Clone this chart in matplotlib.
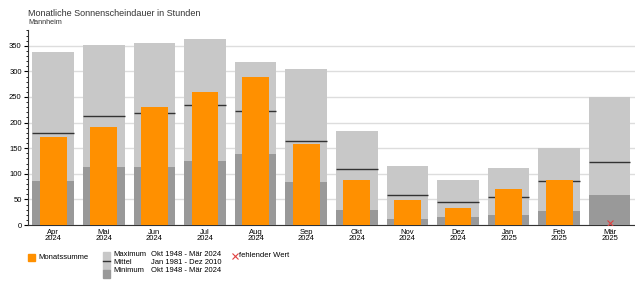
import numpy as np
import matplotlib
matplotlib.use("Agg")
import matplotlib.pyplot as plt
from matplotlib.patches import Rectangle
from matplotlib.lines import Line2D
from matplotlib.ticker import MultipleLocator

plt.rcParams['font.family'] = ['Liberation Sans', 'DejaVu Sans']

months = ["Apr\n2024", "Mai\n2024", "Jun\n2024", "Jul\n2024", "Aug\n2024", "Sep\n2024",
          "Okt\n2024", "Nov\n2024", "Dez\n2024", "Jan\n2025", "Feb\n2025", "Mär\n2025"]
maximum = [338, 352, 356, 364, 319, 304, 184, 116, 88, 112, 151, 250]
mittel = [180, 213, 219, 235, 222, 164, 109, 59, 45, 55, 85, 124]
minimum = [85, 113, 113, 125, 139, 84, 29, 12, 15, 19, 27, 59]
summe = [172, 192, 230, 259, 290, 159, 87, 48, 34, 70, 87, np.nan]
fehlend = [np.nan] * 11 + [4]

light = "#c8c8c8"
dark = "#999999"
orange = "#ff9000"
fs = 5.5

fig = plt.figure(figsize=(6.35, 2.82), dpi=100)
ax = fig.add_axes([0.044, 0.202, 0.956, 0.692])

x = np.arange(len(months))
ax.bar(x, maximum, width=0.82, color=light, zorder=2)
ax.bar(x, minimum, width=0.82, color=dark, zorder=3)
ax.hlines(mittel, x - 0.41, x + 0.41, color="#333333", lw=1.0, zorder=4)
ax.bar(x, summe, width=0.53, color=orange, zorder=5)
ax.plot(x, fehlend, "x", color="#e04040", ms=4, mew=0.8, zorder=6)

ax.set_xlim(-0.5, 11.5)
ax.set_ylim(0, 381)
ax.yaxis.set_major_locator(MultipleLocator(50))
ax.yaxis.set_minor_locator(MultipleLocator(10))
ax.grid(axis="y", color="#dddddd", lw=1.0, zorder=0)
ax.set_axisbelow(True)
ax.set_xticks(x)
ax.set_xticklabels(months, fontsize=fs, linespacing=0.85)
ax.tick_params(axis="x", length=0, pad=3)
ax.tick_params(axis="y", labelsize=fs, length=3, width=0.8, pad=1.5)
ax.tick_params(axis="y", which="minor", length=1.5, width=0.6)
for s in ["top", "right"]:
    ax.spines[s].set_visible(False)
ax.spines["left"].set_color("#333333")
ax.spines["bottom"].set_color("#333333")

fig.text(28 / 635, 1 - 13.5 / 282, "Monatliche Sonnenscheindauer in Stunden", fontsize=6.5,
         color="#333333", va="center")
fig.text(28 / 635, 1 - 22 / 282, "Mannheim", fontsize=fs - 0.3, color="#333333", va="center")

# legend
def px(xp, yp):
    return xp / 635, 1 - yp / 282

fig.patches.append(Rectangle(px(28, 261), 7.3 / 635, 7.5 / 282, transform=fig.transFigure, color=orange))
fig.text(*px(38, 257.3), "Monatssumme", fontsize=fs, va="center")

fig.patches.append(Rectangle(px(103, 269.5), 7 / 635, 17.5 / 282, transform=fig.transFigure, color=light))
fig.patches.append(Rectangle(px(103, 277.7), 7 / 635, 8.2 / 282, transform=fig.transFigure, color=dark))
fig.lines.append(Line2D([103 / 635, 110 / 635], [1 - 261.3 / 282] * 2, transform=fig.transFigure,
                        color="#333333", lw=1))
rows = [("Maximum", "Okt 1948 - Mär 2024", 254.3), ("Mittel", "Jan 1981 - Dez 2010", 262.3),
        ("Minimum", "Okt 1948 - Mär 2024", 270.5)]
for name, period, yp in rows:
    fig.text(*px(113.3, yp), name, fontsize=fs, va="center")
    fig.text(*px(150.7, yp), period, fontsize=fs, va="center")

fig.lines.append(Line2D([235 / 635], [1 - 255.7 / 282], transform=fig.transFigure, marker="x",
                        color="#e04040", ms=4, mew=0.8, ls="none"))
fig.text(*px(239.3, 255.7), "fehlender Wert", fontsize=fs, va="center")

fig.savefig("out.png", dpi=100)
